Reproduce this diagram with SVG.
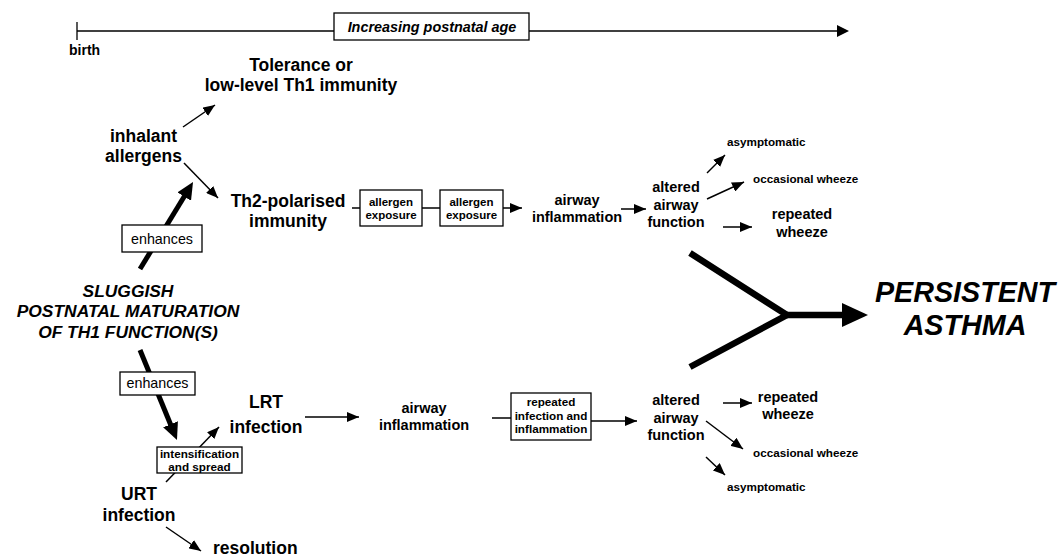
<svg xmlns="http://www.w3.org/2000/svg" width="1063" height="557" viewBox="0 0 1063 557">
<style>
text{font-family:"Liberation Sans",Arial,Helvetica,sans-serif;fill:#000;font-weight:bold}
.c{text-anchor:middle}
.l{font-size:17.5px}
.m{font-size:14.5px}
.s{font-size:11.7px}
.bi{font-style:italic}
.reg{font-weight:normal}
.box{fill:#fff;stroke:#000;stroke-width:1.3}
.thin{fill:none;stroke:#000;stroke-width:1.5}
.thick{fill:none;stroke:#000;stroke-width:5}
.huge{fill:none;stroke:#000;stroke-width:6.5;stroke-linejoin:miter}
</style>
<defs>
<marker id="ah" viewBox="0 0 12 10" refX="12" refY="5" markerWidth="12" markerHeight="10" markerUnits="userSpaceOnUse" orient="auto">
<path d="M0,0 L12,5 L0,10 z" fill="#000"/>
</marker>
<marker id="ahT" viewBox="0 0 17 16" refX="1" refY="8" markerWidth="17" markerHeight="16" markerUnits="userSpaceOnUse" orient="auto">
<path d="M0,0 L17,8 L0,16 z" fill="#000"/>
</marker>
</defs>
<rect width="1063" height="557" fill="#fff"/>

<g id="connectors">
<!-- timeline -->
<line x1="77" y1="31" x2="838" y2="31" stroke="#000" stroke-width="1.3"/>
<line x1="77" y1="22" x2="77" y2="40" stroke="#000" stroke-width="1.3"/>
<polygon points="837,25 849,31 837,37" fill="#000"/>
<!-- upper branch -->
<line class="thin" x1="183" y1="127" x2="215" y2="105" marker-end="url(#ah)"/>
<line class="thin" x1="184" y1="163" x2="218" y2="198" marker-end="url(#ah)"/>
<line class="thick" x1="140" y1="269" x2="184.7" y2="195.7" marker-end="url(#ahT)"/>
<line class="thin" x1="352" y1="208" x2="360" y2="208"/>
<line class="thin" x1="422" y1="208" x2="440" y2="208"/>
<line class="thin" x1="503" y1="208" x2="522" y2="208" marker-end="url(#ah)"/>
<line class="thin" x1="621" y1="209" x2="646" y2="209" marker-end="url(#ah)"/>
<line class="thin" x1="707" y1="173" x2="725" y2="155" marker-end="url(#ah)"/>
<line class="thin" x1="707" y1="199" x2="744" y2="182" marker-end="url(#ah)"/>
<line class="thin" x1="723" y1="227" x2="752" y2="227" marker-end="url(#ah)"/>
<!-- Y to persistent asthma -->
<path class="huge" d="M690,253 L787,315 L690,367"/>
<line x1="787" y1="315" x2="844" y2="315" stroke="#000" stroke-width="6.5"/>
<polygon points="842,303 868,315 842,327" fill="#000"/>
<!-- lower branch -->
<line class="thick" x1="140" y1="350" x2="170.9" y2="425.2" marker-end="url(#ahT)"/>
<line class="thin" x1="166" y1="482" x2="219" y2="427" marker-end="url(#ah)"/>
<line class="thin" x1="166" y1="527" x2="201" y2="551" marker-end="url(#ah)"/>
<line class="thin" x1="305" y1="417" x2="359" y2="417" marker-end="url(#ah)"/>
<line class="thin" x1="492" y1="418" x2="511" y2="418"/>
<line class="thin" x1="591" y1="421" x2="637" y2="421" marker-end="url(#ah)"/>
<line class="thin" x1="723" y1="403" x2="752" y2="403" marker-end="url(#ah)"/>
<line class="thin" x1="706" y1="421" x2="743" y2="449" marker-end="url(#ah)"/>
<line class="thin" x1="706" y1="457" x2="725" y2="475" marker-end="url(#ah)"/>
</g>

<g id="n-birth"><text x="69" y="55" style="font-size:14px">birth</text></g>
<g id="n-age">
<rect class="box" x="334" y="13" width="195" height="27"/>
<text class="c bi" x="432" y="32" style="font-size:14.4px">Increasing postnatal age</text>
</g>
<g id="n-tolerance">
<text class="c l" x="301" y="71">Tolerance or</text>
<text class="c l" x="301" y="91">low-level Th1 immunity</text>
</g>
<g id="n-allergens">
<text class="c l" x="143.5" y="142">inhalant</text>
<text class="c l" x="143.5" y="162">allergens</text>
</g>
<g id="n-th2">
<text class="c l" x="288" y="207">Th2-polarised</text>
<text class="c l" x="288" y="227">immunity</text>
</g>
<g id="n-enh1">
<rect class="box" x="122" y="225" width="80" height="27"/>
<text class="c reg" x="162" y="243.5" style="font-size:14.3px">enhances</text>
</g>
<g id="n-sluggish">
<text class="c bi" x="128" y="297" style="font-size:17.4px">SLUGGISH</text>
<text class="c bi" x="128" y="317" style="font-size:17.4px">POSTNATAL MATURATION</text>
<text class="c bi" x="128" y="338" style="font-size:17.4px">OF TH1 FUNCTION(S)</text>
</g>
<g id="n-exp1">
<rect class="box" x="360" y="190" width="62" height="36"/>
<text class="c s" x="391" y="205.5" style="font-size:11.5px">allergen</text>
<text class="c s" x="391" y="219" style="font-size:11.5px">exposure</text>
</g>
<g id="n-exp2">
<rect class="box" x="440" y="190" width="63" height="36"/>
<text class="c s" x="471.5" y="205.5" style="font-size:11.5px">allergen</text>
<text class="c s" x="471.5" y="219" style="font-size:11.5px">exposure</text>
</g>
<g id="n-infl1">
<text class="c m" x="577" y="205">airway</text>
<text class="c m" x="577" y="222">inflammation</text>
</g>
<g id="n-alt1">
<text class="c m" x="676" y="192">altered</text>
<text class="c m" x="676" y="210">airway</text>
<text class="c m" x="676" y="227">function</text>
</g>
<g id="n-asym1"><text class="s" x="727" y="146">asymptomatic</text></g>
<g id="n-occ1"><text class="s" x="753" y="183">occasional wheeze</text></g>
<g id="n-rep1">
<text class="c m" x="802" y="219">repeated</text>
<text class="c m" x="802" y="237">wheeze</text>
</g>
<g id="n-asthma">
<text class="c bi" x="965" y="302" style="font-size:28.7px">PERSISTENT</text>
<text class="c bi" x="965" y="335" style="font-size:28.7px">ASTHMA</text>
</g>
<g id="n-enh2">
<rect class="box" x="120" y="372" width="75" height="23"/>
<text class="c reg" x="157.5" y="388" style="font-size:14.3px">enhances</text>
</g>
<g id="n-lrt">
<text class="c l" x="266" y="408">LRT</text>
<text class="c l" x="266" y="433">infection</text>
</g>
<g id="n-intens">
<rect class="box" x="157" y="447" width="85" height="26"/>
<text class="c s" x="199.5" y="458">intensification</text>
<text class="c s" x="199.5" y="470.5">and spread</text>
</g>
<g id="n-urt">
<text class="c l" x="139" y="500">URT</text>
<text class="c l" x="139" y="521">infection</text>
</g>
<g id="n-resolution"><text class="l" x="213" y="554">resolution</text></g>
<g id="n-infl2">
<text class="c m" x="424" y="413">airway</text>
<text class="c m" x="424" y="430">inflammation</text>
</g>
<g id="n-repinf">
<rect class="box" x="511" y="393" width="80" height="47"/>
<text class="c s" x="551" y="406">repeated</text>
<text class="c s" x="551" y="419.5">infection and</text>
<text class="c s" x="551" y="433">inflammation</text>
</g>
<g id="n-alt2">
<text class="c m" x="676" y="405">altered</text>
<text class="c m" x="676" y="423">airway</text>
<text class="c m" x="676" y="440">function</text>
</g>
<g id="n-rep2">
<text class="c m" x="788" y="402">repeated</text>
<text class="c m" x="788" y="419">wheeze</text>
</g>
<g id="n-occ2"><text class="s" x="753" y="457">occasional wheeze</text></g>
<g id="n-asym2"><text class="s" x="727" y="491">asymptomatic</text></g>
</svg>
